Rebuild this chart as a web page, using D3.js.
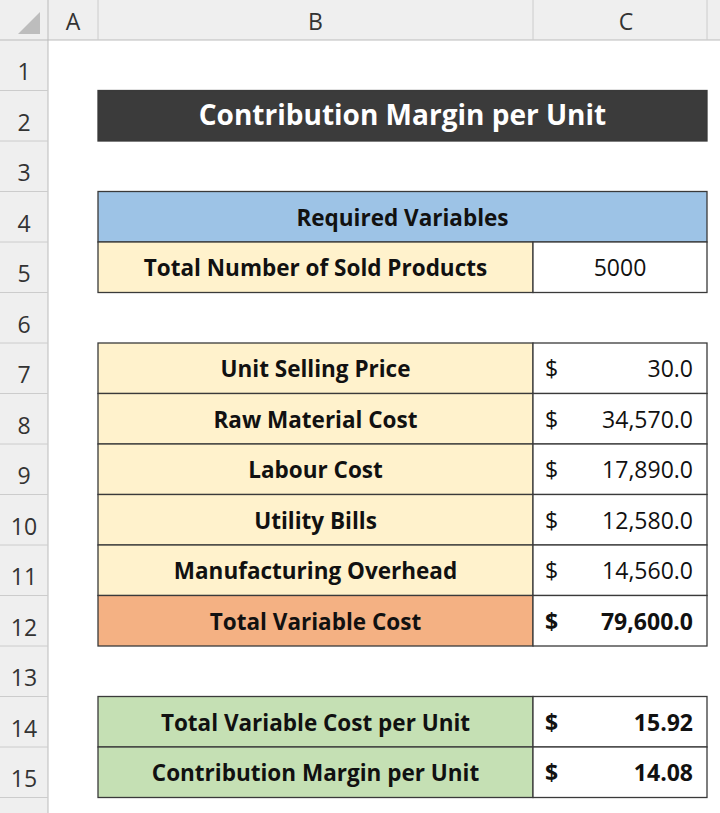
<!DOCTYPE html>
<html><head><meta charset="utf-8">
<script src="https://cdn.jsdelivr.net/npm/d3@7"></script>
<style>body{margin:0;background:#fff}</style>
</head><body>
<script>
const colLetters = ["A", "B", "C"];
const rowNumbers = d3.range(1, 16);
const title = "Contribution Margin per Unit";
const varLabels = ["Required Variables", "Total Number of Sold Products"];
const soldUnits = 5000;
const costLabels = ["Unit Selling Price", "Raw Material Cost", "Labour Cost", "Utility Bills", "Manufacturing Overhead", "Total Variable Cost"];
const costValues = [30.0, 34570.0, 17890.0, 12580.0, 14560.0, 79600.0];
const resultLabels = ["Total Variable Cost per Unit", "Contribution Margin per Unit"];
const resultValues = [15.92, 14.08];

const W = 720, H = 813, headH = 40, rowHdrW = 48;
const font = "'Open Sans', sans-serif";
const svg = d3.select("body").append("svg").attr("width", W).attr("height", H);

const y = d3.scaleBand().domain(rowNumbers).range([headH, headH + 15 * 50.5]);
const colEdges = [rowHdrW, 98, 533, 707, W + 40];
const x = d3.scaleOrdinal().domain(colLetters).range([0, 1, 2]);
const left = c => colEdges[x(c)], right = c => colEdges[x(c) + 1];

// headers
svg.append("rect").attr("width", W).attr("height", headH).attr("fill", "#efefef");
svg.append("rect").attr("y", headH).attr("width", rowHdrW).attr("height", H).attr("fill", "#efefef");
svg.append("path").attr("d", `M40,12 L40,34 L18,34 Z`).attr("fill", "#bdbdbd");
svg.append("line").attr("x1", 0).attr("x2", W).attr("y1", headH).attr("y2", headH).attr("stroke", "#bbb");
svg.append("line").attr("x1", rowHdrW).attr("x2", rowHdrW).attr("y1", 0).attr("y2", H).attr("stroke", "#bbb");
colLetters.forEach(c => {
  svg.append("line").attr("x1", right(c)).attr("x2", right(c)).attr("y1", 0).attr("y2", headH).attr("stroke", "#ccc");
  svg.append("text").attr("x", (left(c) + Math.min(right(c), W)) / 2 + (c === "C" ? 6 : 0)).attr("y", 30)
    .attr("text-anchor", "middle").attr("font-family", font).attr("font-size", 23).attr("fill", "#333").text(c);
});
rowNumbers.forEach(r => {
  svg.append("line").attr("x1", 0).attr("x2", rowHdrW).attr("y1", y(r) + y.bandwidth()).attr("y2", y(r) + y.bandwidth()).attr("stroke", "#ccc");
  svg.append("text").attr("x", rowHdrW / 2).attr("y", y(r) + y.bandwidth() / 2 + 15)
    .attr("text-anchor", "middle").attr("font-family", font).attr("font-size", 23).attr("fill", "#333").text(r);
});

function cell(r, c0, c1, fill, txt, opt = {}) {
  const x0 = left(c0), x1 = right(c1);
  svg.append("rect").attr("x", x0).attr("y", y(r)).attr("width", x1 - x0).attr("height", y.bandwidth())
    .attr("fill", fill).attr("stroke", "#3a3a3a").attr("stroke-width", 1.3);
  if (txt !== undefined) svg.append("text").attr("x", opt.anchor === "end" ? x1 - 14 : (x0 + x1) / 2)
    .attr("y", y(r) + y.bandwidth() / 2 + 9).attr("text-anchor", opt.anchor || "middle")
    .attr("font-family", font).attr("font-size", opt.size || 22.5).attr("font-weight", opt.weight || "bold")
    .attr("fill", opt.color || "#111").text(txt);
}
function dollar(r, v, fmt, bold) {
  cell(r, "C", "C", "#fff", fmt(v), { anchor: "end", weight: bold ? "bold" : "normal", size: 23 });
  svg.append("text").attr("x", left("C") + 12).attr("y", y(r) + y.bandwidth() / 2 + 9)
    .attr("font-family", font).attr("font-size", 23).attr("font-weight", bold ? "bold" : "normal").attr("fill", "#111").text("$");
}

cell(2, "B", "C", "#3b3b3b", title, { color: "#fff", size: 28 });
cell(4, "B", "C", "#9dc3e6", varLabels[0]);
cell(5, "B", "B", "#fff2cc", varLabels[1]);
cell(5, "C", "C", "#fff", soldUnits, { weight: "normal", size: 23 });
costLabels.forEach((l, i) => {
  const last = i === costLabels.length - 1;
  cell(7 + i, "B", "B", last ? "#f4b183" : "#fff2cc", l);
  dollar(7 + i, costValues[i], d3.format(",.1f"), last);
});
resultLabels.forEach((l, i) => {
  cell(14 + i, "B", "B", "#c5e0b4", l);
  dollar(14 + i, resultValues[i], d3.format(".2f"), true);
});
</script>
</body></html>
